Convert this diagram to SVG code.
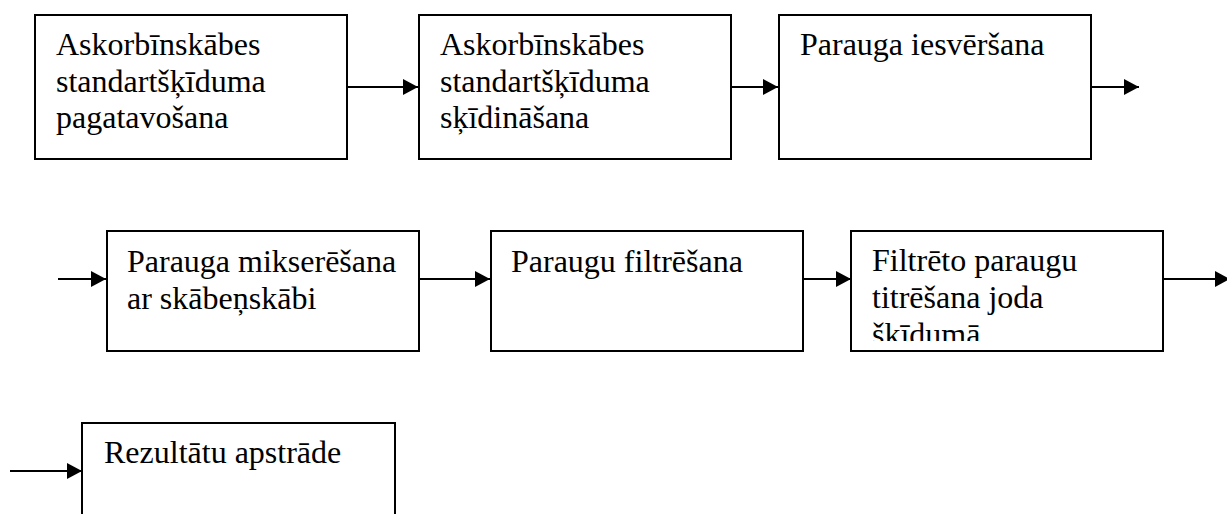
<svg xmlns="http://www.w3.org/2000/svg" width="1227" height="514" viewBox="0 0 1227 514">
<style>
.box{fill:#fff;stroke:#000;stroke-width:2}
.t{font-family:"Times New Roman",Times,"Nimbus Roman","FreeSerif","Liberation Serif",serif;font-size:32px;fill:#000}
.c{stroke:#000;stroke-width:2;fill:none;marker-end:url(#ah)}
</style>
<defs>
<marker id="ah" markerUnits="userSpaceOnUse" markerWidth="16" markerHeight="18" refX="15" refY="8" orient="auto">
<path d="M0,0 L15,8 L0,16 Z" fill="#000"/>
</marker>
<clipPath id="clip6"><rect x="851" y="231" width="312" height="110"/></clipPath>
</defs>
<rect width="1227" height="514" fill="#fff"/>
<g id="connectors">
<line class="c" x1="347" y1="87" x2="418" y2="87"/>
<line class="c" x1="731" y1="87" x2="778" y2="87"/>
<line class="c" x1="1091" y1="87" x2="1139" y2="87"/>
<line class="c" x1="58" y1="279" x2="106" y2="279"/>
<line class="c" x1="419" y1="279" x2="490" y2="279"/>
<line class="c" x1="803" y1="279" x2="851" y2="279"/>
<line class="c" x1="1163" y1="279" x2="1230" y2="279"/>
<line class="c" x1="10" y1="471" x2="82" y2="471"/>
</g>
<g id="n1">
<rect class="box" x="35" y="15" width="312" height="144"/>
<text class="t" x="56" y="55">Askorbīnskābes</text>
<text class="t" x="56" y="92">standartšķīduma</text>
<text class="t" x="56" y="128">pagatavošana</text>
</g>
<g id="n2">
<rect class="box" x="419" y="15" width="312" height="144"/>
<text class="t" x="440" y="55">Askorbīnskābes</text>
<text class="t" x="440" y="92">standartšķīduma</text>
<text class="t" x="440" y="128">sķīdināšana</text>
</g>
<g id="n3">
<rect class="box" x="779" y="15" width="312" height="144"/>
<text class="t" x="800" y="55">Parauga iesvēršana</text>
</g>
<g id="n4">
<rect class="box" x="107" y="231" width="312" height="120"/>
<text class="t" x="127" y="272">Parauga mikserēšana</text>
<text class="t" x="127" y="309">ar skābeņskābi</text>
</g>
<g id="n5">
<rect class="box" x="491" y="231" width="312" height="120"/>
<text class="t" x="511" y="272">Paraugu filtrēšana</text>
</g>
<g id="n6">
<rect class="box" x="851" y="231" width="312" height="120"/>
<g clip-path="url(#clip6)">
<text class="t" x="872" y="271">Filtrēto paraugu</text>
<text class="t" x="872" y="308">titrēšana joda</text>
<text class="t" x="872" y="345">šķīdumā</text>
</g>
</g>
<g id="n7">
<rect class="box" x="82" y="423" width="313" height="120"/>
<text class="t" x="104" y="463">Rezultātu apstrāde</text>
</g>
</svg>
